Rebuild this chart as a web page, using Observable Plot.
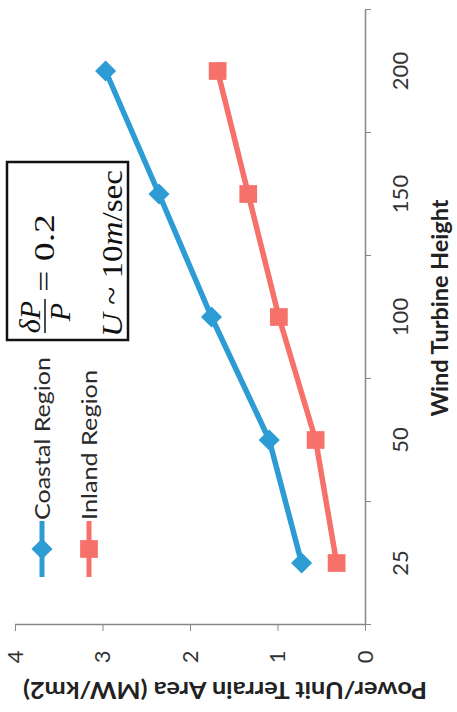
<!DOCTYPE html>
<html><head><meta charset="utf-8">
<script src="https://cdn.jsdelivr.net/npm/d3@7"></script>
<script src="https://cdn.jsdelivr.net/npm/@observablehq/plot@0.6"></script>
<style>
html,body{margin:0;padding:0;background:#fff;}
body{width:457px;height:712px;overflow:hidden;position:relative;}
#rot{position:absolute;left:0;top:0;width:712px;height:457px;transform-origin:0 0;transform:translate(0,712px) rotate(-90deg);}
</style></head><body><div id="rot"></div>
<script>
const heights = ["25", "50", "100", "150", "200"];
const coastal = [0.73, 1.10, 1.76, 2.36, 2.97];
const inland = [0.33, 0.57, 0.99, 1.34, 1.69];
const seriesNames = ["Coastal Region", "Inland Region"];
const seriesColors = ["#2e9cd4", "#f6716a"];
const seriesSymbols = ["diamond2", "square"];
const powerTicks = [0, 1, 2, 3, 4];
const xTitle = "Wind Turbine Height";
const yTitle = "Power/Unit Terrain Area (MW/km2)";

const font = "Lato, 'Open Sans', sans-serif";
const idx = heights.map((h, i) => i);
const bounds = [-0.5, 0.5, 1.5, 2.5, 3.5, 4.5];
const rows = [coastal, inland].map((vals, s) => heights.map((h, i) => ({i, h, v: vals[i], s: seriesNames[s]})));

const chart = Plot.plot({
  width: 712, height: 457,
  marginLeft: 87, marginRight: 10, marginTop: 15, marginBottom: 92,
  style: {fontFamily: font, fontSize: "22px", color: "#333", background: "transparent", overflow: "visible"},
  x: {domain: [-0.5, 4.5]},
  y: {domain: [0, 4]},
  marks: [
    Plot.axisY({ticks: powerTicks, tickSize: 6, tickPadding: 20, tickFormat: d => String(d), label: null, stroke: "#888"}),
    Plot.axisX({ticks: idx, tickSize: 0, tickPadding: 27, tickFormat: i => heights[i], label: null}),
    Plot.axisX({ticks: bounds, tickSize: 6, tickFormat: () => "", label: null, stroke: "#888"}),
    Plot.ruleX([-0.5], {stroke: "#888", strokeWidth: 1.5}),
    Plot.ruleY([0], {stroke: "#888", strokeWidth: 1.5}),
    ...rows.map((r, s) => Plot.line(r, {x: "i", y: "v", stroke: seriesColors[s], strokeWidth: 5.5})),
    ...rows.map((r, s) => Plot.dot(r, {x: "i", y: "v", fill: seriesColors[s], symbol: seriesSymbols[s], r: s === 0 ? 9.5 : 10})),
  ]
});
document.getElementById("rot").appendChild(chart);

const svg = d3.select(chart);
svg.append("text")
  .attr("transform", "translate(22,225) rotate(-90)")
  .attr("text-anchor", "middle").attr("dy", "0.35em")
  .attr("font-weight", "bold").attr("font-size", 23).attr("fill", "#222")
  .attr("font-family", font)
  .attr("textLength", 404).attr("lengthAdjust", "spacingAndGlyphs")
  .text(yTitle);
svg.append("text")
  .attr("x", 404).attr("y", 440)
  .attr("text-anchor", "middle").attr("dy", "0.35em")
  .attr("font-weight", "bold").attr("font-size", 22).attr("fill", "#222")
  .attr("font-family", font)
  .attr("textLength", 217).attr("lengthAdjust", "spacingAndGlyphs")
  .text(xTitle);

// legend
const leg = svg.append("g").attr("font-family", font).attr("font-size", 22).attr("fill", "#2a2a2a").attr("text-anchor", "start");
[42, 89].forEach((cy, s) => {
  const g = leg.append("g").attr("transform", `translate(0,${cy})`);
  g.append("line").attr("x1", 135).attr("x2", 191).attr("stroke", seriesColors[s]).attr("stroke-width", 5);
  const sym = s === 0 ? d3.symbolDiamond2 : d3.symbolSquare;
  g.append("path").attr("transform", "translate(163,0)").attr("d", d3.symbol(sym, s === 0 ? 9.5 * 9.5 * Math.PI : 100 * Math.PI)()).attr("fill", seriesColors[s]);
  g.append("text").attr("x", 192).attr("dy", "0.35em")
    .attr("textLength", s === 0 ? 163 : 150).attr("lengthAdjust", "spacingAndGlyphs")
    .text(seriesNames[s]);
});

// formula box
const fb = svg.append("g").attr("font-family", "'Liberation Serif', 'Times New Roman', serif").attr("font-size", 30).attr("fill", "#111").attr("text-anchor", "start");
fb.append("rect").attr("x", 372).attr("y", 7).attr("width", 178).attr("height", 121).attr("fill", "#fff").attr("stroke", "#111").attr("stroke-width", 2.5);
fb.append("text").attr("x", 395).attr("y", 40).attr("text-anchor", "middle").attr("font-style", "italic").text("δP");
fb.append("line").attr("x1", 379).attr("x2", 413).attr("y1", 45).attr("y2", 45).attr("stroke", "#111").attr("stroke-width", 1.5);
fb.append("text").attr("x", 400).attr("y", 70).attr("text-anchor", "middle").attr("font-style", "italic").text("P");
fb.append("text").attr("x", 420).attr("y", 54).attr("textLength", 78).attr("lengthAdjust", "spacingAndGlyphs").text("= 0.2");
const t2 = fb.append("text").attr("x", 375).attr("y", 122).attr("textLength", 167).attr("lengthAdjust", "spacingAndGlyphs");
t2.append("tspan").attr("font-style", "italic").text("U");
t2.append("tspan").text(" ~ 10");
t2.append("tspan").attr("font-style", "italic").text("m");
t2.append("tspan").text("/sec");
</script>
</body></html>
